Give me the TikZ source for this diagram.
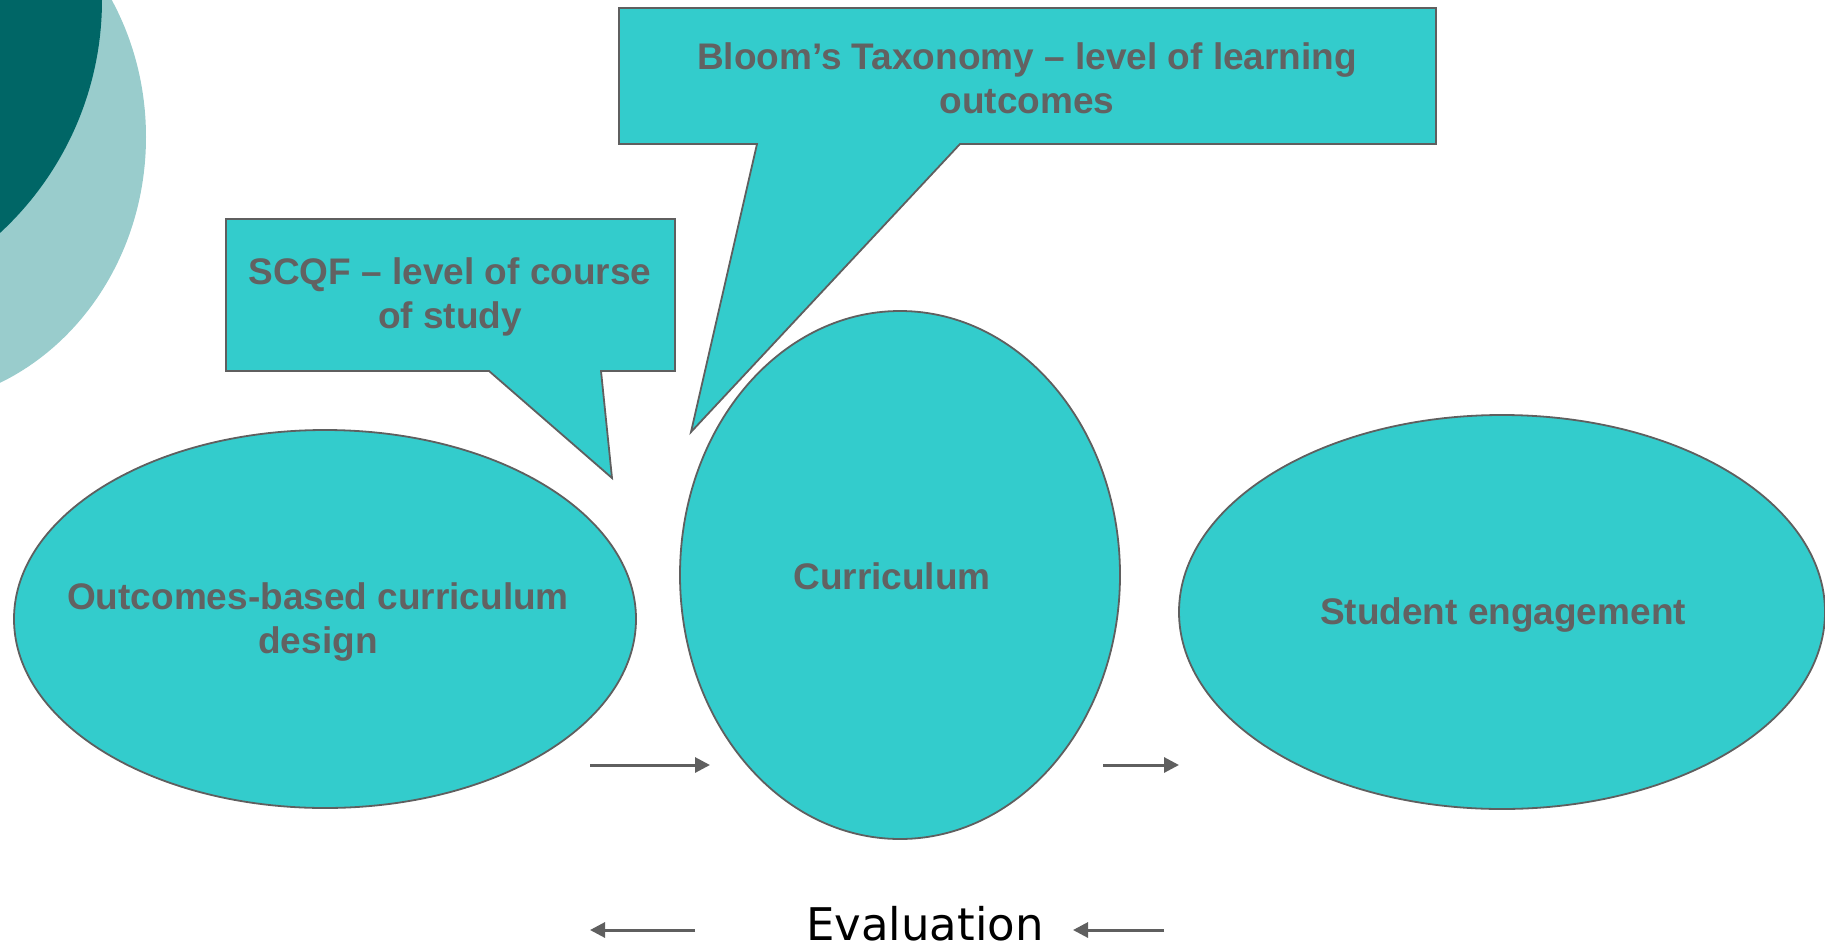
\documentclass[tikz,border=0pt]{standalone}
\usepackage{fontspec}
\setmainfont{Liberation Sans}
\newfontfamily\evalfont{DejaVu Sans}
\usetikzlibrary{shapes.geometric,arrows.meta}
\definecolor{teal1}{HTML}{33CCCC}
\definecolor{edge}{HTML}{5F5F5F}
\definecolor{txt}{HTML}{626262}
\definecolor{darkteal}{HTML}{006666}
\definecolor{lightteal}{HTML}{99CCCC}
\tikzset{
  blob/.style={ellipse, fill=teal1, draw=edge, line width=1.8pt, inner sep=0pt},
  bubble/.style={fill=teal1, draw=edge, line width=1.8pt, line join=miter},
  lbl/.style={font=\fontsize{37}{44}\selectfont\bfseries, text=txt, align=center},
  flow/.style={draw=edge, line width=3pt, -{Triangle[length=15pt,width=15pt]}},
}
\begin{document}
\begin{tikzpicture}[x=1pt,y=-1pt]
\useasboundingbox (0,0) rectangle (1825,945);
% background decoration
\fill[lightteal] (-100,137) ellipse [x radius=246, y radius=269];
\fill[darkteal] (-215,0) circle [radius=317];
% main ellipses
\node[blob, minimum width=622pt, minimum height=378pt] (obe) at (325,619) {};
\node[lbl] (obet) at (318,622) {Outcomes-based curriculum\\design};
\node[blob, minimum width=440pt, minimum height=528pt] (cur) at (900,575) {};
\node[lbl] (curt) at (892,576) {Curriculum};
\node[blob, minimum width=646pt, minimum height=394pt] (stu) at (1502,612) {};
\node[lbl] (stut) at (1503,615) {Student engagement};
% callouts
\draw[bubble] (226,219) -- (675,219) -- (675,371) -- (601,371) -- (612,478) -- (489,371) -- (226,371) -- cycle;
\node[lbl] (scqf) at (450,297) {SCQF -- level of course\\of study};
\draw[bubble] (619,8) -- (1436,8) -- (1436,144) -- (960,144) -- (691,432) -- (757,144) -- (619,144) -- cycle;
\node[lbl] (bloom) at (1027,78) {Bloom’s Taxonomy -- level of learning\\outcomes};
% arrows
\coordinate (a1s) at (590,765); \coordinate (a1e) at (710,765);
\coordinate (a2s) at (1103,765); \coordinate (a2e) at (1179,765);
\coordinate (b1s) at (695,930); \coordinate (b1e) at (590,930);
\coordinate (b2s) at (1164,930); \coordinate (b2e) at (1073,930);
\draw[flow] (a1s) -- (a1e);
\draw[flow] (a2s) -- (a2e);
\draw[flow] (b1s) -- (b1e);
\draw[flow] (b2s) -- (b2e);
\node[font=\evalfont\fontsize{45}{54}\selectfont, anchor=base, inner sep=0pt] (eval) at (925,940) {Evaluation};
\end{tikzpicture}
\end{document}
